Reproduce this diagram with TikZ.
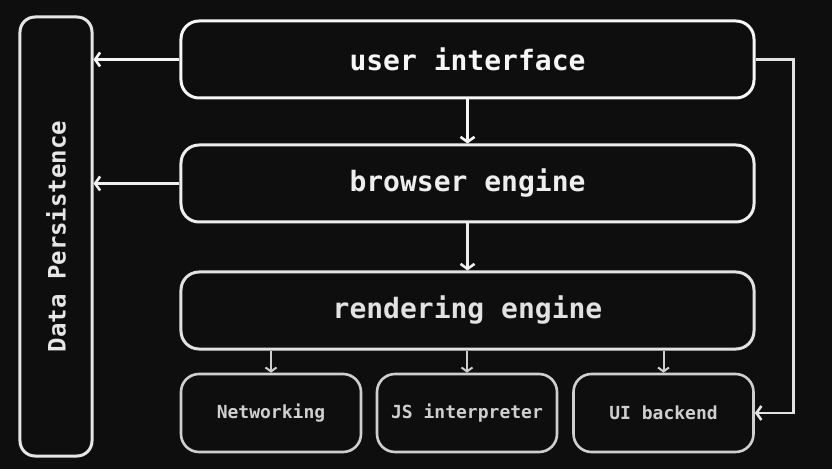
\documentclass[tikz,border=0pt]{standalone}
\usepackage{fontspec}
\setmonofont{DejaVu Sans Mono}
\usetikzlibrary{arrows.meta}
\definecolor{bg}{HTML}{0E0E0E}
\definecolor{cA}{HTML}{F6F6F6}
\definecolor{cB}{HTML}{EEEEEE}
\definecolor{cC}{HTML}{E2E2E2}
\definecolor{cD}{HTML}{CFCFCF}
\definecolor{cP}{HTML}{E6E6E6}
\begin{document}
\begin{tikzpicture}[x=1bp,y=-1bp,
  box/.style={draw, rounded corners=18bp, line width=3bp, inner sep=0pt, font=\ttfamily\bfseries},
  bigbox/.style={box, minimum width=573bp, minimum height=77bp, font=\ttfamily\bfseries\fontsize{28bp}{30bp}\selectfont},
  smallbox/.style={box, line width=2.6bp, minimum width=180bp, minimum height=78bp, draw=cD, text=cD, font=\ttfamily\bfseries\fontsize{18bp}{20bp}\selectfont},
  arr/.style={line width=2.6bp, -{Straight Barb[length=5bp,width=14bp,line width=2.6bp]}},
  sarr/.style={line width=2bp, -{Straight Barb[length=4bp,width=11bp,line width=2bp]}, draw=cD}
]
\useasboundingbox (0,0) rectangle (832,469);
\fill[bg] (0,0) rectangle (832,469);

\node[box, draw=cP, text=cP, rotate=90, minimum width=439bp, minimum height=72bp, rounded corners=15bp,
  font=\ttfamily\bfseries\fontsize{24bp}{26bp}\selectfont] (dp) at (56,236.5) {Data Persistence};

\node[bigbox, draw=cA, text=cA] (ui) at (467.5,59.5) {user interface};
\node[bigbox, draw=cB, text=cB] (be) at (467.5,183.5) {browser engine};
\node[bigbox, draw=cC, text=cC] (re) at (467.5,310.5) {rendering engine};

\node[smallbox] (net) at (271,413) {Networking};
\node[smallbox] (js) at (467,413) {JS interpreter};
\node[smallbox] (uib) at (663.5,413) {UI backend};

\draw[arr, cA] (ui.west) -- (ui.west -| dp.south);
\draw[arr, cB] (be.west) -- (be.west -| dp.south);
\draw[arr, cA] (ui.south) -- (be.north);
\draw[arr, cB] (be.south) -- (re.north);
\draw[sarr] (net.north |- re.south) -- (net.north);
\draw[sarr] (js.north |- re.south) -- (js.north);
\draw[sarr] (uib.north |- re.south) -- (uib.north);
\draw[arr, cC] (ui.east) -- ++(38,0) |- (uib.east);
\end{tikzpicture}
\end{document}
